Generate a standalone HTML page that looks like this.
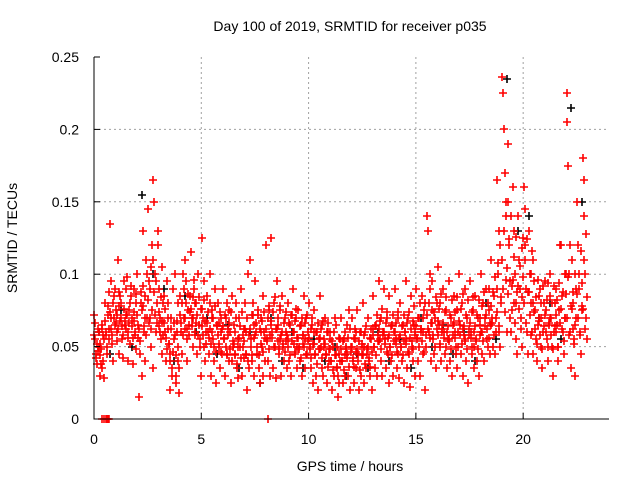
<!DOCTYPE html>
<html><head><meta charset="utf-8"><style>
body{margin:0;background:#fff}
svg{display:block;font-family:"Liberation Sans",sans-serif}
</style></head><body>
<svg id="c" width="640" height="480">
<text x="350" y="31" font-size="14" text-anchor="middle">Day 100 of 2019, SRMTID for receiver p035</text>
<text x="350" y="471" font-size="14" text-anchor="middle">GPS time / hours</text>
<text transform="translate(17,238) rotate(-90)" font-size="14" text-anchor="middle">SRMTID / TECUs</text>
<g id="grid"></g><g id="pts"></g><g id="axes"></g>
</svg>
<script>
const xTicks=[0,5,10,15,20];
const yTicks=[0,0.05,0.1,0.15,0.2,0.25];
const yTickLabels=["0","0.05","0.1","0.15","0.2","0.25"];
const binHours=0.25;
// red series: values in thousandths of TECU, per 0.25-h bin
const redBins=[
[72,55,45,38,62,50],[30,48,65,35,58,28],[80,60,45,72,55,135],[95,70,52,40,85,65],
[75,60,110,45,88,68],[80,55,42,95,65,72],[98,60,40,75,52,85],[70,38,90,58,80,48],
[100,65,15,45,80,30],[130,60,85,40,110,70],[145,95,70,50,120,35],[165,150,100,60,80,130],
[90,70,55,105,45,80],[85,60,40,95,70,52],[20,45,70,35,90,55],[100,25,60,40,80,18],
[85,60,45,100,70,110],[95,55,40,75,65,85],[115,70,50,90,60,80],[80,45,100,65,55,30],
[125,70,50,95,40,60],[85,60,45,100,30,70],[75,55,40,90,25,65],[80,50,35,70,60,45],
[90,55,30,70,45,62],[75,40,60,25,85,50],[65,45,80,35,55,28],[70,50,90,30,58,42],
[80,45,60,20,100,35],[110,55,40,72,30,65],[95,60,45,75,35,25],[70,50,85,30,60,40],
[120,55,40,75,30,65],[125,60,35,80,50,28],[95,65,45,75,55,30],[85,50,40,70,60,35],
[80,55,40,65,30,72],[90,60,45,70,35,50],[75,50,40,65,30,58],[85,55,35,70,45,60],
[80,50,35,65,25,60],[75,45,30,60,20,55],[85,50,35,65,30,55],[70,45,25,60,40,55],
[60,40,20,50,30,70],[65,35,15,45,25,55],[70,40,25,55,30,48],[65,45,30,75,20,50],
[70,40,25,55,35,60],[75,45,20,60,30,50],[80,50,25,60,35,45],[70,40,30,55,20,62],
[85,50,35,65,30,58],[95,55,40,70,30,60],[90,55,35,70,45,25],[85,50,40,65,30,60],
[90,55,35,70,45,28],[80,50,40,65,25,60],[95,55,35,70,45,22],[85,50,40,65,30,60],
[90,55,40,70,30,62],[85,60,45,75,20,50],[140,130,60,90,40,75],[95,55,45,70,35,80],
[105,65,50,80,40,60],[90,60,45,75,35,55],[95,55,40,70,30,65],[85,60,45,75,35,50],
[100,65,45,80,30,58],[90,55,40,70,25,62],[95,60,45,75,35,50],[85,55,40,70,30,65],
[100,60,45,80,40,70],[90,55,50,75,45,65],[110,70,50,85,45,60],[165,100,60,130,50,80],
[236,225,200,170,140,60],[190,150,120,95,60,75],[160,130,100,80,55,45],[140,110,90,70,50,125],
[160,145,120,90,60,45],[130,100,80,60,45,110],[95,75,55,40,65,85],[90,70,50,35,60,80],
[95,75,55,40,65,85],[100,70,50,30,60,80],[90,65,50,40,75,120],[120,85,60,45,70,100],
[225,205,175,100,60,35],[110,80,55,30,65,90],[150,120,90,60,45,75],[180,165,140,100,70,55]];
// second red pass (core of the cloud), same binning
const redBins2=[
[58,66,42,52,47,60],[44,52,38,62,40,55],[68,58,50,78,62,88],[74,62,58,80,70,90],
[66,72,54,62,78,85],[70,64,58,76,68,90],[62,72,56,66,80,92],[64,56,74,68,60,86],
[72,56,62,54,88,75],[78,92,64,70,58,100],[82,66,90,62,105,75],[110,88,72,95,66,120],
[64,74,60,84,68,58],[66,76,56,48,80,62],[52,40,62,30,46,66],[58,44,30,68,50,35],
[72,66,80,58,90,62],[70,80,62,86,58,74],[76,64,84,70,96,58],[66,72,58,84,50,76],
[76,64,58,82,68,52],[66,74,56,80,62,52],[60,70,50,78,46,64],[58,66,52,74,46,62],
[64,56,72,50,80,44],[58,66,48,74,40,54],[52,60,44,70,38,50],[56,64,42,74,50,62],
[54,62,44,70,40,58],[62,50,72,44,80,56],[58,66,50,72,44,62],[60,52,68,46,74,56],
[62,54,70,48,78,58],[68,56,74,50,84,62],[62,54,70,48,78,58],[60,52,66,46,74,54],
[58,50,66,44,72,54],[60,52,68,46,76,56],[56,48,64,42,70,52],[58,50,66,44,72,54],
[56,48,62,42,70,52],[52,44,60,38,66,48],[56,48,62,42,68,50],[52,44,60,36,66,48],
[48,40,54,34,60,44],[44,36,50,30,56,40],[48,40,54,34,60,44],[50,42,56,36,62,46],
[50,42,56,36,62,46],[48,40,54,34,60,44],[52,44,58,38,64,48],[50,42,56,36,62,46],
[58,50,64,44,72,54],[62,54,68,48,76,58],[60,52,66,46,74,56],[58,50,64,44,72,54],
[60,52,66,46,74,56],[58,50,64,44,72,54],[60,52,66,46,74,56],[62,54,68,48,78,58],
[64,56,70,50,80,60],[62,54,70,46,80,58],[72,62,80,56,100,66],[66,58,74,50,84,62],
[68,58,76,52,86,62],[66,56,74,50,84,60],[64,54,72,48,82,58],[66,56,74,50,84,60],
[68,58,76,52,86,62],[64,54,72,48,82,58],[66,56,74,50,84,60],[64,54,72,48,82,58],
[70,60,78,54,88,64],[72,62,80,56,90,66],[78,66,88,58,98,70],[90,74,108,64,120,84],
[110,90,130,74,150,96],[104,86,124,70,140,92],[96,80,112,66,126,88],[92,76,106,62,118,84],
[98,80,110,66,124,88],[88,72,100,58,116,80],[74,62,84,52,96,68],[70,58,80,48,92,64],
[72,60,82,50,94,66],[70,58,80,48,92,64],[72,60,82,50,94,66],[76,62,88,54,100,70],
[86,70,98,58,120,78],[76,62,88,52,100,70],[86,70,100,58,116,78],[94,76,110,62,128,84]];
const zeroTimes=[0.35,0.45,0.55,0.6,0.65,0.7,8.1];
// black series: 1-hour bins, thousandths
const blackBins=[[60,45],[75,50],[155,100],[90,40],[85,60],[70,45],[65,35],[60,25],[70,40],[60,35],
[55,40],[50,30],[45,35],[60,40],[55,35],[70,50],[65,45],[60,40],[80,55],[235,130],[140,70],[80,55],[215,150]];
const X0=94,X1=609,Y0=419,Y1=57,XMAX=24,YMAX=0.25;
const sx=t=>X0+t/XMAX*(X1-X0), sy=v=>Y0-v/YMAX*(Y0-Y1);
const NS="http://www.w3.org/2000/svg";
const mk=(tag,a,p)=>{const e=document.createElementNS(NS,tag);for(const k in a)e.setAttribute(k,a[k]);p.appendChild(e);return e;};
const grid=document.getElementById('grid'),pts=document.getElementById('pts'),axes=document.getElementById('axes');
xTicks.forEach((t,i)=>{
  if(t>0){const g=mk('line',{x1:sx(t),x2:sx(t),y1:Y0,y2:Y1,stroke:'#a0a0a0','stroke-dasharray':'2,3'},grid);
  
  }
  const tk=mk('line',{x1:sx(t),x2:sx(t),y1:Y0,y2:Y0-6,stroke:'#000'},axes);
  
  
  const l=mk('text',{x:sx(t),y:Y0+25,'font-size':14,'text-anchor':'middle'},axes);l.textContent=t;
  
  
});
yTicks.forEach((v,i)=>{
  if(v>0&&v<YMAX){const g=mk('line',{x1:X0,x2:X1,y1:sy(v),y2:sy(v),stroke:'#a0a0a0','stroke-dasharray':'2,3'},grid);
  
  }
  const tk=mk('line',{x1:X0,x2:X0+6,y1:sy(v),y2:sy(v),stroke:'#000'},axes);
  
  
  const l=mk('text',{x:X0-15,y:sy(v)+5,'font-size':14,'text-anchor':'end'},axes);l.textContent=yTickLabels[i];
  
  
});
const frame=mk('path',{d:`M${X0},${Y1}V${Y0}H${X1}`,fill:'none',stroke:'#000'},axes);


const plus=(t,v,c,name)=>{const x=Math.round(sx(t)),y=Math.round(sy(v));
  const p=mk('path',{d:`M${x-4},${y}h8M${x},${y-4}v8`,stroke:c,'stroke-width':1.6},pts);
  
  };
blackBins.forEach((b,i)=>b.forEach((v,j)=>plus(i+(j+0.5)/b.length,v/1000,'#000','black-point')));
redBins.forEach((b,i)=>b.forEach((v,j)=>plus(i*binHours+(j+0.5)/b.length*binHours,v/1000,'#f00','red-point')));
redBins2.forEach((b,i)=>b.forEach((v,j)=>plus(i*binHours+(j+0.25)/b.length*binHours,v/1000,'#f00','red-point')));
zeroTimes.forEach(t=>plus(t,0,'#f00','red-point'));
</script>
</body></html>
